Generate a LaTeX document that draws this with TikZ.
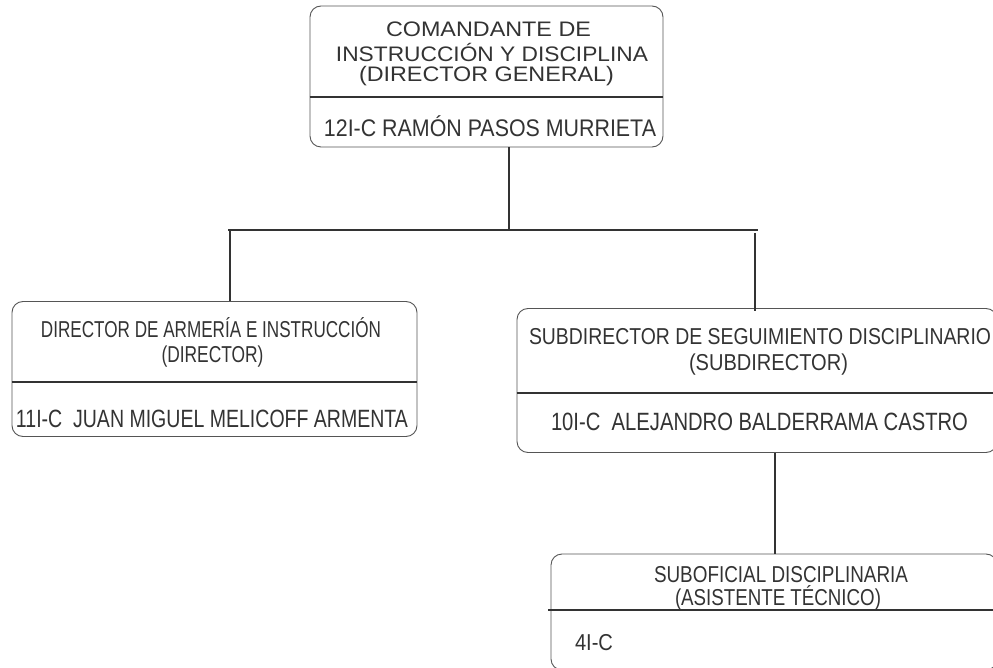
\documentclass[tikz,border=0pt]{standalone}
\usepackage{fontspec}
\usepackage{graphicx}
\setmainfont{Liberation Sans}
\definecolor{ink}{HTML}{333333}
\definecolor{frame}{HTML}{555555}
\newcommand{\fitw}[3]{\resizebox{#1pt}{\height}{\fontsize{#2}{#2}\selectfont #3}}
\begin{document}
\begin{tikzpicture}[x=1pt,y=-1pt,
  box/.style={draw=frame,line width=0.9pt,rounded corners=11pt,fill=none,inner sep=0pt},
  divider/.style={draw=ink,line width=2pt},
  link/.style={draw=ink,line width=2.4pt},
  label/.style={text=ink,inner sep=0pt}]
\useasboundingbox (0,0) rectangle (993,668);
% boxes
\node[box,minimum width=353pt,minimum height=141pt] (top) at (486.5,76.5) {};
\node[box,minimum width=405pt,minimum height=135pt] (left) at (214.5,369) {};
\node[box,minimum width=480pt,minimum height=144pt] (right) at (757,380.5) {};
\node[box,minimum width=446pt,minimum height=116pt] (bottom) at (774,612) {};
% dividers
\draw[divider] (top.west |- 0,97) -- (top.east |- 0,97);
\draw[divider] (left.west |- 0,382) -- (left.east |- 0,382);
\draw[divider] (right.west |- 0,393) -- (right.east |- 0,393);
\coordinate (bdl) at (548,610);
\draw[divider] (bdl) -- (bdl -| bottom.east);
% texts
\node[label] (t1) at (488.5,29) {\fitw{205}{21}{COMANDANTE DE}};
\node[label] (t2) at (492,52.5) {\fitw{312}{21}{INSTRUCCIÓN Y DISCIPLINA}};
\node[label] (t3) at (486.5,76) {\fitw{255}{21}{(DIRECTOR GENERAL)}};
\node[label] (t4) at (490,126) {\fitw{332}{24}{12I-C RAMÓN PASOS MURRIETA}};
\node[label] (l1) at (211,328) {\fitw{340}{23}{DIRECTOR DE ARMERÍA E INSTRUCCIÓN}};
\node[label] (l2) at (212.5,357) {\fitw{102}{23}{(DIRECTOR)}};
\node[label] (l3) at (212,419) {\fitw{392}{25}{11I-C\ \ JUAN MIGUEL MELICOFF ARMENTA}};
\node[label] (r1) at (760,337) {\fitw{462}{23}{SUBDIRECTOR DE SEGUIMIENTO DISCIPLINARIO}};
\node[label] (r2) at (768.5,365) {\fitw{159}{23}{(SUBDIRECTOR)}};
\node[label] (r3) at (759.5,422) {\fitw{417}{25}{10I-C\ \ ALEJANDRO BALDERRAMA CASTRO}};
\node[label] (b1) at (781,575) {\fitw{254}{23}{SUBOFICIAL DISCIPLINARIA}};
\node[label] (b2) at (778,598) {\fitw{206}{23}{(ASISTENTE TÉCNICO)}};
\node[label] (b3) at (594,643) {\fitw{38}{23}{4I-C}};
% connectors
\coordinate (j1) at (509,230);
\coordinate (hl) at (228,230);
\coordinate (hr) at (758,230);
\draw[link] (top.south -| j1) -- (j1);
\draw[link] (hl) -- (hr);
\draw[link] (230,230) -- (left.north -| 230,0);
\coordinate (rd) at (755,233);
\draw[link] (rd) -- ([yshift=-3pt]right.north -| rd);
\coordinate (bd) at (775,0);
\draw[link] (right.south -| bd) -- (bottom.north -| bd);
\end{tikzpicture}
\end{document}
